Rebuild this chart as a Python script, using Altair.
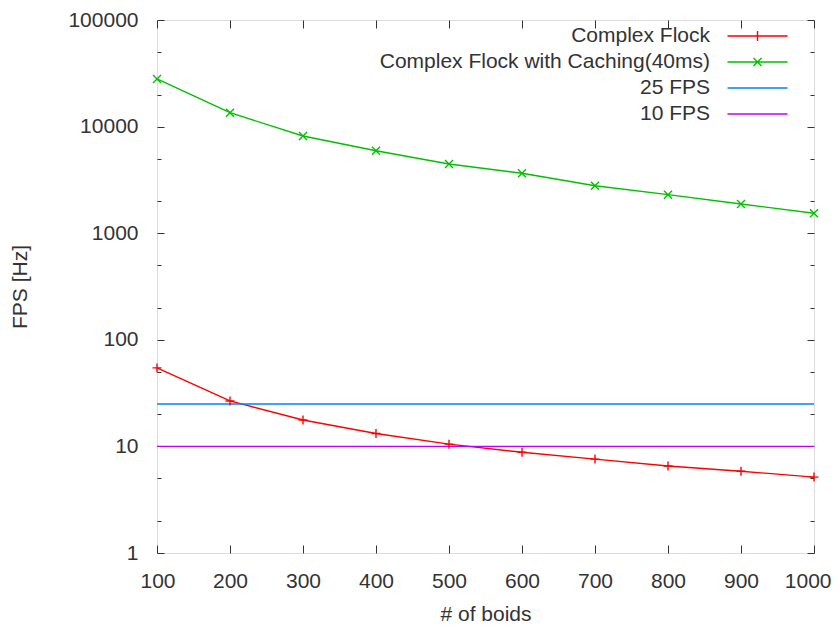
import altair as alt
import pandas as pd

# ---- data ----
boids = [100, 200, 300, 400, 500, 600, 700, 800, 900, 1000]
complex_flock = [54.5, 26.7, 17.7, 13.2, 10.5, 8.8, 7.6, 6.55, 5.85, 5.15]
cached_flock = [28000, 13500, 8160, 5940, 4460, 3650, 2790, 2300, 1880, 1540]
series_names = ["Complex Flock", "Complex Flock with Caching(40ms)", "25 FPS", "10 FPS"]
series_colors = ["#ff0000", "#00c000", "#0080ff", "#c000ff"]
fps_levels = [25, 10]
y_major = [1, 10, 100, 1000, 10000, 100000]
y_minor = [2, 5, 20, 50, 200, 500, 2000, 5000, 20000, 50000]
x_ticks = boids

rows = []
for x, v in zip(boids, complex_flock):
    rows.append({"series": series_names[0], "boids": x, "fps": v})
for x, v in zip(boids, cached_flock):
    rows.append({"series": series_names[1], "boids": x, "fps": v})
for name, lvl in zip(series_names[2:], fps_levels):
    for x in (boids[0], boids[-1]):
        rows.append({"series": name, "boids": x, "fps": lvl})
df = pd.DataFrame(rows)

W, H = 657, 533
FONT = "Liberation Sans"
FS = 21
TXT = "#333333"
FRAME = "#333333"

x_scale = alt.Scale(domain=[100, 1000], nice=False, zero=False)
y_scale = alt.Scale(type="log", domain=[1, 100000], nice=False)
color_scale = alt.Scale(domain=series_names, range=series_colors)

# legend symbols: a line sample with the series marker in the middle (r = sqrt(size)/2 = 5px)
PLUS_SAMPLE = "M-6,0H6M0,-1V1"
X_SAMPLE = "M-6,0H6M-0.8,-0.8L0.8,0.8M-0.8,0.8L0.8,-0.8"
LINE_SAMPLE = "M-6,0H6"
shape_scale = alt.Scale(domain=series_names,
                        range=[PLUS_SAMPLE, X_SAMPLE, LINE_SAMPLE, LINE_SAMPLE])

major_test = f"indexof({y_major}, datum.value) >= 0"

x_axis = alt.Axis(
    values=x_ticks, format="d", title="# of boids",
    domain=False, ticks=False, tickSize=0, labelPadding=17,
    labelFlush=True, labelFlushOffset=17,
    grid=True, gridColor=FRAME, gridOpacity=1, gridWidth=1,
    gridDash=[8, H - 16, 8, 1000],
    labelFont=FONT, labelFontSize=FS, labelColor=TXT,
    titleFont=FONT, titleFontSize=FS, titleFontWeight="normal", titleColor=TXT,
    titleX=W / 2, titleY=61, titleBaseline="middle", titleAlign="center",
)
y_axis = alt.Axis(
    values=y_major + y_minor, title="FPS [Hz]",
    labelExpr=f"{major_test} ? format(datum.value, 'd') : ''",
    domain=False, ticks=False, tickSize=0, labelPadding=19, labelFlush=False,
    grid=True, gridColor=FRAME, gridOpacity=1, gridWidth=1,
    gridDash={"condition": {"test": major_test, "value": [7, W - 14, 7, 1000]},
              "value": [4, W - 8, 4, 1000]},
    labelFont=FONT, labelFontSize=FS, labelColor=TXT,
    titleFont=FONT, titleFontSize=FS, titleFontWeight="normal", titleColor=TXT,
    titleX=-137, titleY=H / 2, titleBaseline="middle", titleAlign="center", titleAngle=270,
)

legend_kw = dict(
    title=None, orient="none", legendX=590, legendY=5.5,
    labelFont=FONT, labelFontSize=FS, labelColor=TXT,
    labelAlign="right", labelOffset={"expr": "-58"}, labelLimit=1000,
    symbolSize=100, symbolStrokeWidth=1.4, symbolOpacity=1,
    rowPadding=4, padding=0,
)

base = alt.Chart(df)

legend_layer = base.mark_point(opacity=0, filled=False).encode(
    x=alt.X("boids:Q", scale=x_scale, axis=x_axis),
    y=alt.Y("fps:Q", scale=y_scale, axis=y_axis),
    color=alt.Color("series:N", scale=color_scale, legend=alt.Legend(**legend_kw)),
    shape=alt.Shape("series:N", scale=shape_scale, legend=alt.Legend(**legend_kw)),
)

lines = base.mark_line(strokeWidth=1.4).encode(
    x="boids:Q",
    y="fps:Q",
    color=alt.Color("series:N", scale=color_scale, legend=alt.Legend(**legend_kw)),
    detail="series:N",
)

plus_pts = base.transform_filter(alt.datum.series == series_names[0]).mark_point(
    shape="M-1,0H1M0,-1V1", size=81, strokeWidth=1.4, filled=False,
    color=series_colors[0], opacity=1,
).encode(x="boids:Q", y="fps:Q")

x_pts = base.transform_filter(alt.datum.series == series_names[1]).mark_point(
    shape="M-1,-1L1,1M-1,1L1,-1", size=64, strokeWidth=1.4, filled=False,
    color=series_colors[1], opacity=1,
).encode(x="boids:Q", y="fps:Q")

chart = alt.layer(legend_layer, lines, plus_pts, x_pts).properties(
    width=W, height=H,
    padding={"left": 149, "top": 12, "right": 17, "bottom": 70},
    autosize=alt.AutoSizeParams(type="none"),
).configure_view(stroke=FRAME, strokeWidth=1).configure(background="white")

chart.save("out.html", embed_options={"renderer": "svg", "actions": False})
